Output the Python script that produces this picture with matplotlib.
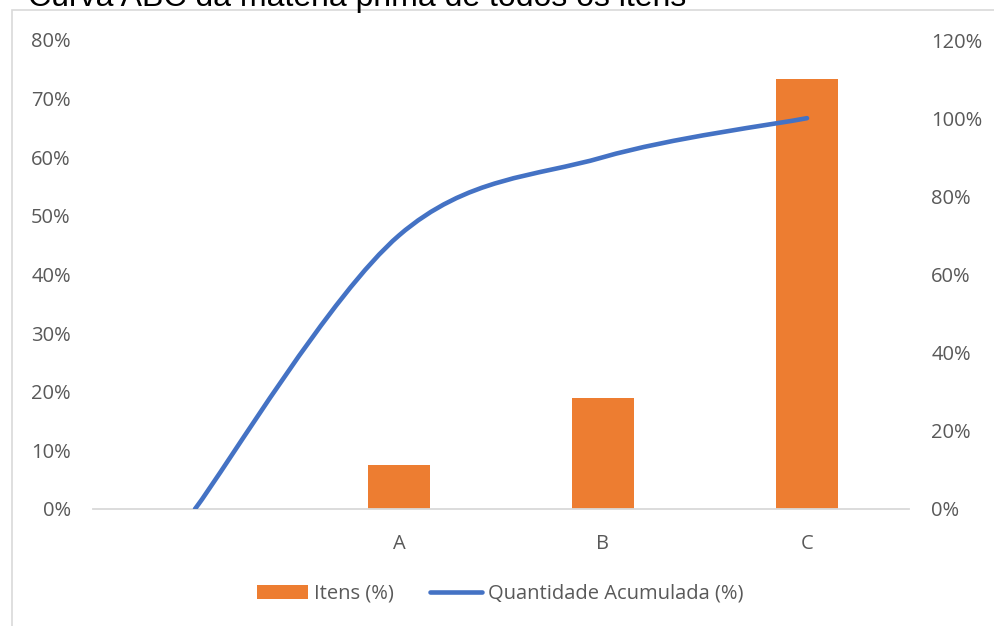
import numpy as np
import matplotlib
matplotlib.use("Agg")
import matplotlib.pyplot as plt
from matplotlib.patches import Patch, PathPatch, Rectangle
from matplotlib.lines import Line2D
from matplotlib.path import Path
from matplotlib.ticker import PercentFormatter, MultipleLocator

# ---- data ----
categories = ["", "A", "B", "C"]
itens_pct = [0.0, 7.5, 19.0, 73.4]          # Itens (%)
acumulada_pct = [0.0, 70.0, 90.0, 100.0]    # Quantidade Acumulada (%)
title = "Curva ABC da matéria prima de todos os itens"

BAR_COLOR = "#ED7D31"
LINE_COLOR = "#4472C4"
TEXT_COLOR = "#595959"
AXIS_COLOR = "#D9D9D9"
FONT = "Open Sans"
FS = 14.5

W, H = 994, 626
fig = plt.figure(figsize=(W / 100, H / 100), dpi=100)

# chart-area border
fig.patches.append(Rectangle((12 / W, -0.05), 1.2, 1 - 10 / H + 0.05,
                             transform=fig.transFigure, fill=False,
                             edgecolor=AXIS_COLOR, lw=1.2, zorder=0))

ax = fig.add_axes([93 / W, 117 / H, 816 / W, 469 / H])
ax2 = ax.twinx()

x = np.arange(len(categories))
ax.bar(x, itens_pct, width=0.30, color=BAR_COLOR, edgecolor="none")

# smoothed cumulative line (Catmull-Rom style Bezier through the points)
pts = np.column_stack([x, acumulada_pct]).astype(float)
verts = [tuple(pts[0])]
codes = [Path.MOVETO]
n = len(pts)
for i in range(n - 1):
    p0 = pts[max(i - 1, 0)]
    p1 = pts[i]
    p2 = pts[i + 1]
    p3 = pts[min(i + 2, n - 1)]
    c1 = p1 + (p2 - p0) / 6.0
    c2 = p2 - (p3 - p1) / 6.0
    verts += [tuple(c1), tuple(c2), tuple(p2)]
    codes += [Path.CURVE4] * 3
ax2.add_patch(PathPatch(Path(verts, codes), fill=False, edgecolor=LINE_COLOR,
                        lw=3.3, capstyle="round", joinstyle="round"))

ax.set_xlim(-0.5, len(categories) - 0.5)
ax.set_ylim(0, 80)
ax2.set_ylim(0, 120)
ax.yaxis.set_major_locator(MultipleLocator(10))
ax2.yaxis.set_major_locator(MultipleLocator(20))
ax.yaxis.set_major_formatter(PercentFormatter(100, decimals=0))
ax2.yaxis.set_major_formatter(PercentFormatter(100, decimals=0))

ax.set_xticks(x)
ax.set_xticklabels(categories)

for a in (ax, ax2):
    for s in a.spines.values():
        s.set_visible(False)
ax.spines["bottom"].set_visible(True)
ax.spines["bottom"].set_color(AXIS_COLOR)
ax.spines["bottom"].set_linewidth(1.3)

ax.tick_params(axis="x", length=0, pad=18, labelsize=FS, labelcolor=TEXT_COLOR)
ax.tick_params(axis="y", length=0, pad=16, labelsize=FS, labelcolor=TEXT_COLOR)
ax2.tick_params(axis="y", length=0, pad=16, labelsize=FS, labelcolor=TEXT_COLOR)
for lab in ax.get_xticklabels() + ax.get_yticklabels() + ax2.get_yticklabels():
    lab.set_fontfamily(FONT)

fig.text(28 / W, 1 - 6 / H, title, fontsize=23, family="Liberation Sans",
         color="black", ha="left", va="baseline")

handles = [Patch(facecolor=BAR_COLOR, edgecolor="none"),
           Line2D([], [], color=LINE_COLOR, lw=3.3, solid_capstyle="round")]
labels = ["Itens (%)", "Quantidade Acumulada (%)"]
leg = fig.legend(handles, labels, loc="center", bbox_to_anchor=(0.503, 1 - 594 / H),
                 ncol=2, frameon=False, handlelength=2.55, handleheight=0.7,
                 handletextpad=0.3, columnspacing=1.8,
                 prop={"family": FONT, "size": FS})
for t in leg.get_texts():
    t.set_color(TEXT_COLOR)

fig.savefig("out.png", dpi=100)
